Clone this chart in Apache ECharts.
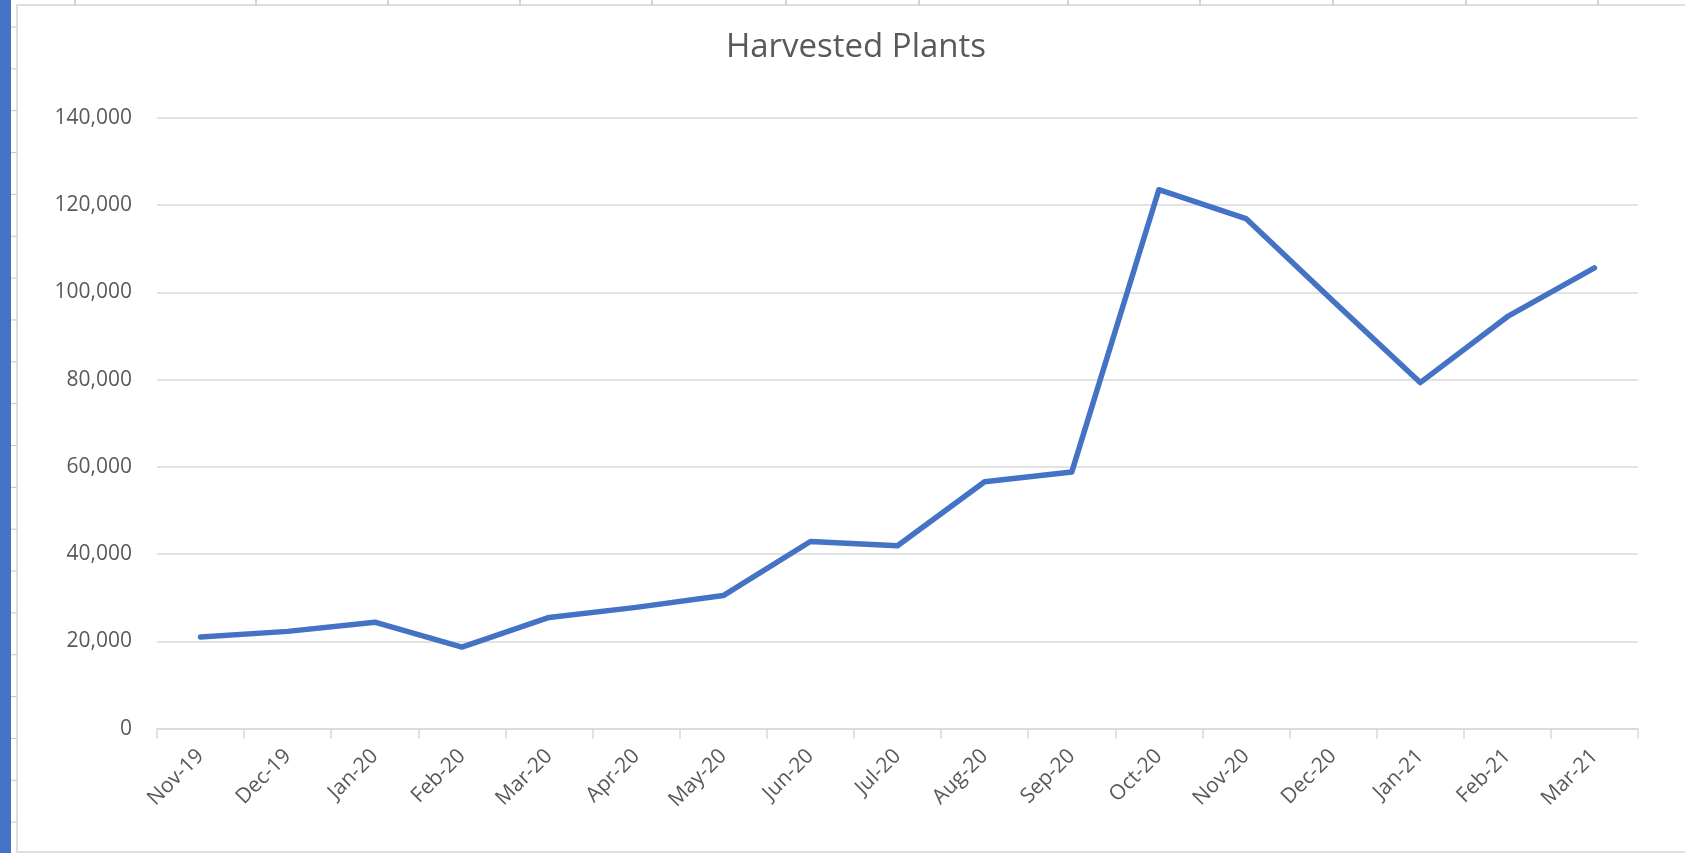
<!DOCTYPE html>
<html>
<head>
<meta charset="utf-8">
<title>Harvested Plants</title>
<script src="https://cdn.jsdelivr.net/npm/echarts@6/dist/echarts.min.js"></script>
<style>
  html, body { margin: 0; padding: 0; background: #fff; }
  #harvest-chart { width: 1685px; height: 853px; }
</style>
</head>
<body>
<div id="harvest-chart"></div>
<script>
const months = ['Nov-19', 'Dec-19', 'Jan-20', 'Feb-20', 'Mar-20', 'Apr-20', 'May-20', 'Jun-20', 'Jul-20',
  'Aug-20', 'Sep-20', 'Oct-20', 'Nov-20', 'Dec-20', 'Jan-21', 'Feb-21', 'Mar-21'];
const harvested = [21000, 22300, 24400, 18700, 25500, 27800, 30500, 42900, 41900,
  56600, 58800, 123500, 116900, 98000, 79300, 94400, 105600];
const yTicks = [0, 20000, 40000, 60000, 80000, 100000, 120000, 140000];

const textColor = '#595959';
const gridColor = '#d9d9d9';
const fontName = '"Open Sans", "Noto Sans", sans-serif';

// worksheet bits around the chart (row header strip, column borders)
const sheetBits = [
  { type: 'rect', shape: { x: 0, y: 0, width: 11, height: 853 }, style: { fill: '#4472c4' }, silent: true },
  { type: 'rect', shape: { x: 17, y: 5, width: 1700, height: 847 }, style: { fill: 'none', stroke: '#d4d4d4', lineWidth: 1.5 }, silent: true }
];
[75, 256, 388, 520, 652, 786, 919, 1068, 1200, 1333, 1466, 1598].forEach(x => {
  sheetBits.push({ type: 'line', shape: { x1: x, y1: 0, x2: x, y2: 5 }, style: { stroke: '#c6c6c6', lineWidth: 1.5 }, silent: true });
});
for (let y = 27; y < 853; y += 41.85) {
  sheetBits.push({ type: 'line', shape: { x1: 11, y1: y, x2: 17, y2: y }, style: { stroke: '#c6c6c6', lineWidth: 1 }, silent: true });
}

const dom = document.getElementById('harvest-chart');
const myChart = echarts.init(dom, null, { renderer: 'canvas' });

const option = {
  animation: false,
  backgroundColor: '#fff',
  textStyle: { fontFamily: fontName },
  title: {
    text: 'Harvested Plants',
    left: 856,
    top: 31,
    textAlign: 'center',
    padding: 0,
    textStyle: { color: textColor, fontSize: 33, fontWeight: 'normal', fontFamily: fontName }
  },
  graphic: sheetBits,
  grid: {
    left: 157,
    right: 47,
    top: 117.7,
    bottom: 124.3,
    containLabel: false,
    outerBoundsMode: 'none'
  },
  xAxis: {
    type: 'category',
    data: months,
    boundaryGap: true,
    axisLine: { lineStyle: { color: gridColor, width: 1.5 } },
    axisTick: { show: true, length: 10, interval: 0, lineStyle: { color: gridColor, width: 1.5 } },
    axisLabel: {
      interval: 0,
      rotate: 45,
      margin: 24,
      color: textColor,
      fontSize: 21,
      fontFamily: fontName
    },
    splitLine: { show: false }
  },
  yAxis: {
    type: 'value',
    min: yTicks[0],
    max: yTicks[yTicks.length - 1],
    interval: yTicks[1] - yTicks[0],
    axisLine: { show: false },
    axisTick: { show: false },
    axisLabel: {
      margin: 25,
      color: textColor,
      fontSize: 21,
      fontFamily: fontName,
      formatter: v => v.toLocaleString('en-US')
    },
    splitLine: { lineStyle: { color: gridColor, width: 1.5 } }
  },
  series: [
    {
      name: 'Harvested Plants',
      type: 'line',
      data: harvested,
      showSymbol: false,
      symbol: 'none',
      smooth: false,
      lineStyle: { color: '#4472c4', width: 5.5, cap: 'round', join: 'round' }
    }
  ]
};
myChart.setOption(option);
</script>
</body>
</html>
